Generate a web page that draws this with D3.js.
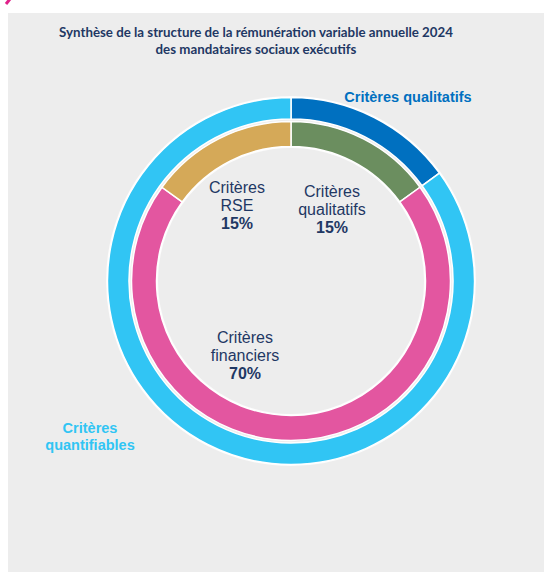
<!DOCTYPE html>
<html><head><meta charset="utf-8">
<script src="https://cdn.jsdelivr.net/npm/d3@7"></script>
<style>body{margin:0;background:#fff;}svg{display:block;}</style>
</head><body>
<svg id="chart" width="544" height="572"></svg>
<script>
// ---- data ----
const titleLines = ["Synthèse de la structure de la rémunération variable annuelle 2024", "des mandataires sociaux exécutifs"];
const innerCategories = ["Critères qualitatifs", "Critères financiers", "Critères RSE"];
const innerValues = [15, 70, 15];
const innerLabelLines = [["Critères", "qualitatifs"], ["Critères", "financiers"], ["Critères", "RSE"]];
const outerCategories = ["Critères qualitatifs", "Critères quantifiables"];
const outerValues = [15, 85];
const outerLabelLines = [["Critères qualitatifs"], ["Critères", "quantifiables"]];

// ---- style / layout ----
const innerColors = ["#6B8E5F", "#E356A0", "#D5A958"];
const outerColors = ["#0070C0", "#31C5F4"];
const cx = 291, cy = 281;
const innerLabelPos = [[332, 197], [245, 343], [237, 193]];
const outerLabelPos = [[408, 102], [90, 433]];

const svg = d3.select("#chart");
svg.append("rect").attr("x", 8).attr("y", 13).attr("width", 536).attr("height", 559).attr("fill", "#EDEDED");
svg.append("line").attr("x1", 6).attr("y1", 4).attr("x2", 10).attr("y2", -1).attr("stroke", "#E0218A").attr("stroke-width", 3);

const title = svg.append("text").attr("text-anchor", "middle")
  .attr("font-family", "Lato, 'Open Sans', sans-serif").attr("font-weight", "bold")
  .attr("font-size", 13.3).attr("fill", "#1F3864");
titleLines.forEach((t, i) => title.append("tspan").attr("x", 256).attr("y", 37 + i * 17).text(t));

const pie = d3.pie().sort(null).value(d => d);
const g = svg.append("g").attr("transform", `translate(${cx},${cy})`);

const outerArc = d3.arc().innerRadius(162).outerRadius(183.5);
const innerArc = d3.arc().innerRadius(134.5).outerRadius(159.5);

// white halos
g.append("circle").attr("r", 184).attr("fill", "none").attr("stroke", "#fff").attr("stroke-width", 2).attr("opacity", 0.8);
g.append("circle").attr("r", 134).attr("fill", "none").attr("stroke", "#fff").attr("stroke-width", 2).attr("opacity", 0.8);

g.selectAll("path.outer").data(pie(outerValues)).join("path").attr("class", "outer")
  .attr("d", outerArc).attr("fill", (d, i) => outerColors[i])
  .attr("stroke", "#fff").attr("stroke-width", 1.5);
g.selectAll("path.inner").data(pie(innerValues)).join("path").attr("class", "inner")
  .attr("d", innerArc).attr("fill", (d, i) => innerColors[i])
  .attr("stroke", "#fff").attr("stroke-width", 1.5);

// inner labels
innerCategories.forEach((c, i) => {
  const t = svg.append("text").attr("text-anchor", "middle")
    .attr("font-family", "'Liberation Sans', Arial, sans-serif").attr("font-size", 16).attr("fill", "#1F3864");
  const [x, y] = innerLabelPos[i];
  innerLabelLines[i].forEach((l, j) => t.append("tspan").attr("x", x).attr("y", y + j * 18).text(l));
  t.append("tspan").attr("x", x).attr("y", y + 36).attr("font-weight", "bold").text(innerValues[i] + "%");
});

// outer labels
outerCategories.forEach((c, i) => {
  const t = svg.append("text").attr("text-anchor", "middle")
    .attr("font-family", "'Liberation Sans', Arial, sans-serif").attr("font-weight", "bold")
    .attr("font-size", 14.5).attr("fill", outerColors[i]);
  const [x, y] = outerLabelPos[i];
  outerLabelLines[i].forEach((l, j) => t.append("tspan").attr("x", x).attr("y", y + j * 17).text(l));
});
</script>
</body></html>
